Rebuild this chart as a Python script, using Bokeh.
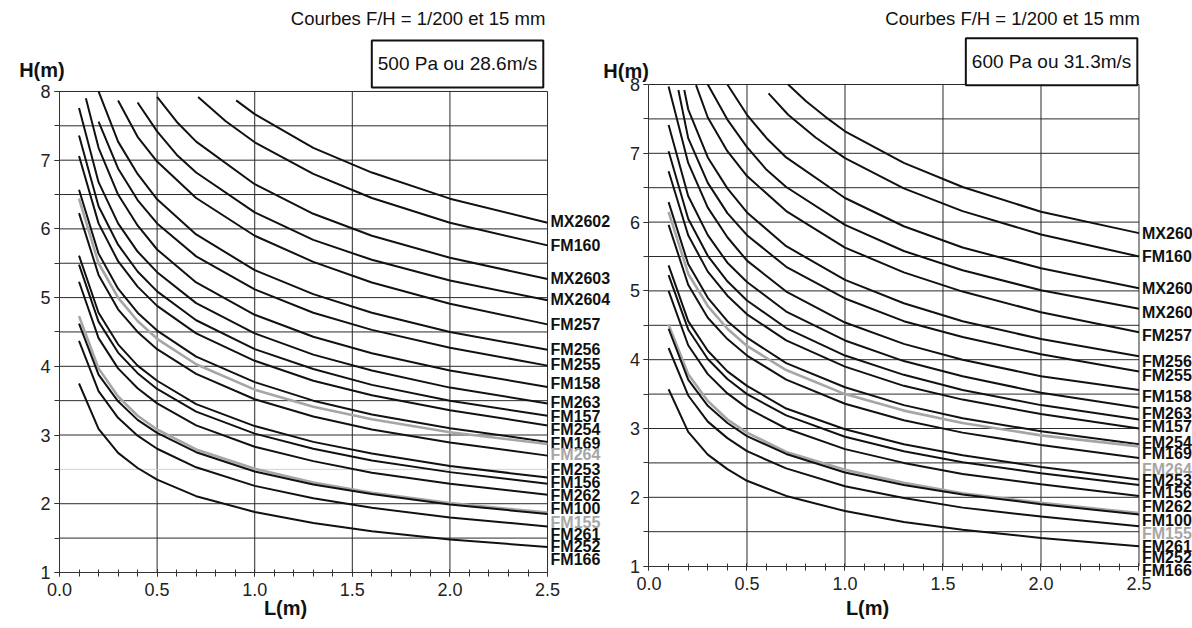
from bokeh.plotting import figure
from bokeh.models import (Range1d, SingleIntervalTicker, PrintfTickFormatter, LinearAxis,
                          Label, LabelSet, ColumnDataSource)
from bokeh.core.properties import value
from bokeh.embed import file_html
from bokeh.resources import INLINE

# ---------------- data ----------------
NAMES = ["MX2602", "FM160", "MX2603", "MX2604", "FM257", "FM256", "FM255", "FM158",
         "FM263", "FM157", "FM254", "FM169", "FM264", "FM253", "FM156", "FM262",
         "FM100", "FM155", "FM261", "FM252", "FM166"]
GRAY_NAMES = ["FM264", "FM155"]
LABELS_500 = NAMES
LABELS_600 = ["MX260", "FM160", "MX260", "MX260", "FM257", "FM256", "FM255", "FM158",
              "FM263", "FM157", "FM254", "FM169", "FM264", "FM253", "FM156", "FM262",
              "FM100", "FM155", "FM261", "FM252", "FM166"]

L_GRID = [0.1, 0.2, 0.3, 0.4, 0.5, 0.7, 1.0, 1.3, 1.6, 2.0, 2.5]

# --- 500 Pa ---
L500_MX2602 = [0.905, 1.0, 1.3, 1.6, 2.0, 2.5]
H500_MX2602 = [7.87, 7.67, 7.18, 6.82, 6.44, 6.09]
L500_FM160 = [0.71, 0.85, 1.0, 1.3, 1.6, 2.0, 2.5]
H500_FM160 = [7.92, 7.57, 7.26, 6.80, 6.45, 6.09, 5.76]
L500_MX2603 = [0.5, 0.6, 0.7, 1.0, 1.3, 1.6, 2.0, 2.5]
H500_MX2603 = [7.92, 7.56, 7.27, 6.65, 6.22, 5.90, 5.58, 5.27]
L500_MX2604 = [0.4, 0.5, 0.6, 0.7, 1.0, 1.3, 1.6, 2.0, 2.5]
H500_MX2604 = [7.84, 7.42, 7.08, 6.82, 6.24, 5.84, 5.55, 5.25, 4.96]
L500_FM257 = [0.3, 0.4, 0.5, 0.7, 1.0, 1.3, 1.6, 2.0, 2.5]
H500_FM257 = [7.87, 7.34, 6.98, 6.45, 5.90, 5.52, 5.22, 4.91, 4.61]
L500_FM256 = [0.2, 0.3, 0.4, 0.5, 0.7, 1.0, 1.3, 1.6, 2.0, 2.5]
H500_FM256 = [8.0, 7.27, 6.80, 6.43, 5.92, 5.40, 5.05, 4.78, 4.50, 4.24]
L500_FM255 = [0.2, 0.3, 0.4, 0.5, 0.7, 1.0, 1.3, 1.6, 2.0, 2.5]
H500_FM255 = [7.56, 6.88, 6.42, 6.08, 5.60, 5.12, 4.78, 4.53, 4.27, 4.01]
L500_FM158 = [0.135, 0.2, 0.3, 0.4, 0.5, 0.7, 1.0, 1.3, 1.6, 2.0, 2.5]
H500_FM158 = [7.90, 7.18, 6.50, 6.05, 5.70, 5.22, 4.75, 4.43, 4.19, 3.94, 3.70]
H500_FM263 = [7.76, 6.68, 6.08, 5.67, 5.37, 4.92, 4.48, 4.17, 3.94, 3.69, 3.46]
H500_FM157 = [7.36, 6.33, 5.77, 5.38, 5.09, 4.67, 4.25, 3.96, 3.73, 3.50, 3.28]
H500_FM254 = [7.06, 6.08, 5.53, 5.16, 4.88, 4.48, 4.08, 3.79, 3.58, 3.36, 3.14]
H500_FM169 = [6.57, 5.64, 5.13, 4.78, 4.52, 4.14, 3.77, 3.50, 3.30, 3.10, 2.90]
H500_FM264 = [6.44, 5.50, 5.00, 4.66, 4.40, 4.03, 3.66, 3.41, 3.23, 3.04, 2.87]
H500_FM253 = [6.23, 5.33, 4.83, 4.50, 4.25, 3.89, 3.52, 3.27, 3.08, 2.89, 2.70]
H500_FM156 = [5.61, 4.78, 4.32, 4.01, 3.79, 3.45, 3.13, 2.90, 2.73, 2.55, 2.38]
H500_FM262 = [5.48, 4.65, 4.20, 3.90, 3.67, 3.34, 3.02, 2.80, 2.63, 2.46, 2.29]
H500_FM100 = [5.23, 4.41, 3.97, 3.68, 3.46, 3.14, 2.83, 2.62, 2.45, 2.29, 2.13]
H500_FM155 = [4.73, 3.97, 3.56, 3.28, 3.08, 2.79, 2.51, 2.31, 2.16, 2.01, 1.87]
H500_FM261 = [4.62, 3.88, 3.49, 3.22, 3.03, 2.75, 2.47, 2.28, 2.14, 1.99, 1.85]
H500_FM252 = [4.37, 3.64, 3.25, 2.99, 2.80, 2.53, 2.26, 2.08, 1.94, 1.80, 1.67]
H500_FM166 = [3.75, 3.09, 2.74, 2.52, 2.35, 2.11, 1.88, 1.72, 1.60, 1.48, 1.37]

# --- 600 Pa ---
L600_MX2602 = [0.71, 0.8, 0.9, 1.0, 1.3, 1.6, 2.0, 2.5]
H600_MX2602 = [8.0, 7.76, 7.53, 7.32, 6.86, 6.51, 6.15, 5.84]
L600_FM160 = [0.61, 0.71, 0.85, 1.0, 1.3, 1.6, 2.0, 2.5]
H600_FM160 = [7.87, 7.56, 7.23, 6.93, 6.49, 6.16, 5.82, 5.50]
L600_MX2603 = [0.4, 0.5, 0.6, 0.7, 1.0, 1.3, 1.6, 2.0, 2.5]
H600_MX2603 = [8.0, 7.56, 7.22, 6.94, 6.35, 5.94, 5.63, 5.33, 5.04]
L600_MX2604 = [0.3, 0.4, 0.5, 0.6, 0.7, 1.0, 1.3, 1.6, 2.0, 2.5]
H600_MX2604 = [8.0, 7.49, 7.09, 6.76, 6.51, 5.96, 5.58, 5.30, 5.01, 4.74]
L600_FM257 = [0.24, 0.3, 0.4, 0.5, 0.7, 1.0, 1.3, 1.6, 2.0, 2.5]
H600_FM257 = [7.99, 7.52, 7.03, 6.67, 6.16, 5.63, 5.27, 4.99, 4.69, 4.40]
L600_FM256 = [0.18, 0.2, 0.3, 0.4, 0.5, 0.7, 1.0, 1.3, 1.6, 2.0, 2.5]
H600_FM256 = [7.92, 7.64, 6.94, 6.49, 6.14, 5.65, 5.16, 4.82, 4.56, 4.30, 4.05]
L600_FM255 = [0.15, 0.2, 0.3, 0.4, 0.5, 0.7, 1.0, 1.3, 1.6, 2.0, 2.5]
H600_FM255 = [7.92, 7.22, 6.57, 6.13, 5.81, 5.35, 4.89, 4.56, 4.33, 4.08, 3.83]
H600_FM158 = [7.97, 6.86, 6.21, 5.78, 5.44, 4.99, 4.54, 4.23, 4.00, 3.76, 3.56]
H600_FM263 = [7.41, 6.38, 5.81, 5.41, 5.13, 4.70, 4.28, 3.98, 3.76, 3.52, 3.30]
H600_FM157 = [7.03, 6.05, 5.51, 5.14, 4.86, 4.46, 4.06, 3.78, 3.56, 3.34, 3.13]
H600_FM254 = [6.74, 5.81, 5.28, 4.93, 4.66, 4.28, 3.90, 3.62, 3.42, 3.21, 3.00]
H600_FM169 = [6.29, 5.39, 4.90, 4.56, 4.32, 3.95, 3.60, 3.34, 3.15, 2.96, 2.77]
H600_FM264 = [6.15, 5.25, 4.78, 4.45, 4.20, 3.85, 3.50, 3.26, 3.08, 2.90, 2.74]
H600_FM253 = [5.96, 5.09, 4.61, 4.30, 4.06, 3.71, 3.36, 3.12, 2.94, 2.76, 2.57]
H600_FM156 = [5.37, 4.56, 4.13, 3.83, 3.62, 3.29, 2.99, 2.77, 2.61, 2.44, 2.26]
H600_FM262 = [5.23, 4.44, 4.01, 3.72, 3.50, 3.19, 2.88, 2.67, 2.51, 2.35, 2.18]
H600_FM100 = [5.00, 4.21, 3.79, 3.51, 3.30, 3.00, 2.70, 2.50, 2.34, 2.19, 2.02]
H600_FM155 = [4.51, 3.79, 3.40, 3.13, 2.94, 2.66, 2.40, 2.21, 2.06, 1.92, 1.77]
H600_FM261 = [4.45, 3.71, 3.33, 3.08, 2.89, 2.63, 2.36, 2.18, 2.04, 1.90, 1.75]
H600_FM252 = [4.17, 3.48, 3.10, 2.86, 2.67, 2.42, 2.16, 1.99, 1.85, 1.72, 1.58]
H600_FM166 = [3.57, 2.95, 2.62, 2.41, 2.24, 2.02, 1.80, 1.64, 1.53, 1.41, 1.29]

# grid / tick positions
X_GRID = [0.5, 1.0, 1.5, 2.0, 2.5]
Y_GRID = [1.5, 2.0, 2.5, 3.0, 3.5, 4.0, 4.5, 5.0, 5.5, 6.0, 6.5, 7.0, 7.5, 8.0]

# label stacking positions (layout)
LABEL_Y_500 = [6.11, 5.76, 5.28, 4.97, 4.61, 4.24, 4.03, 3.75, 3.47, 3.27, 3.08, 2.88,
               2.71, 2.50, 2.31, 2.12, 1.93, 1.73, 1.55, 1.38, 1.19]
LABEL_Y_600 = [5.84, 5.50, 5.03, 4.69, 4.35, 3.97, 3.77, 3.47, 3.22, 3.03, 2.80, 2.63,
               2.40, 2.24, 2.07, 1.87, 1.67, 1.48, 1.28, 1.13, 0.94]

SERIES_500 = [
    ("MX2602", L500_MX2602, H500_MX2602), ("FM160", L500_FM160, H500_FM160),
    ("MX2603", L500_MX2603, H500_MX2603), ("MX2604", L500_MX2604, H500_MX2604),
    ("FM257", L500_FM257, H500_FM257), ("FM256", L500_FM256, H500_FM256),
    ("FM255", L500_FM255, H500_FM255), ("FM158", L500_FM158, H500_FM158),
    ("FM263", L_GRID, H500_FM263), ("FM157", L_GRID, H500_FM157),
    ("FM254", L_GRID, H500_FM254), ("FM169", L_GRID, H500_FM169),
    ("FM264", L_GRID, H500_FM264), ("FM253", L_GRID, H500_FM253),
    ("FM156", L_GRID, H500_FM156), ("FM262", L_GRID, H500_FM262),
    ("FM100", L_GRID, H500_FM100), ("FM155", L_GRID, H500_FM155),
    ("FM261", L_GRID, H500_FM261), ("FM252", L_GRID, H500_FM252),
    ("FM166", L_GRID, H500_FM166),
]
SERIES_600 = [
    ("MX2602", L600_MX2602, H600_MX2602), ("FM160", L600_FM160, H600_FM160),
    ("MX2603", L600_MX2603, H600_MX2603), ("MX2604", L600_MX2604, H600_MX2604),
    ("FM257", L600_FM257, H600_FM257), ("FM256", L600_FM256, H600_FM256),
    ("FM255", L600_FM255, H600_FM255), ("FM158", L_GRID, H600_FM158),
    ("FM263", L_GRID, H600_FM263), ("FM157", L_GRID, H600_FM157),
    ("FM254", L_GRID, H600_FM254), ("FM169", L_GRID, H600_FM169),
    ("FM264", L_GRID, H600_FM264), ("FM253", L_GRID, H600_FM253),
    ("FM156", L_GRID, H600_FM156), ("FM262", L_GRID, H600_FM262),
    ("FM100", L_GRID, H600_FM100), ("FM155", L_GRID, H600_FM155),
    ("FM261", L_GRID, H600_FM261), ("FM252", L_GRID, H600_FM252),
    ("FM166", L_GRID, H600_FM166),
]

TITLE = "Courbes F/H = 1/200 et 15 mm"
BOX_500 = "500 Pa ou 28.6m/s"
BOX_600 = "600 Pa ou 31.3m/s"

FONT = "Liberation Sans"
BLACK = "#111111"
GRAY = "#a6a6a6"
GRID = "#2a2a2a"

# one canvas, two panels: each panel has its own pair of ranges spanning the canvas
p = figure(width=1192, height=628,
           x_range=Range1d(-0.3023, 5.804), y_range=Range1d(0.184, 9.324),
           output_backend="svg", toolbar_location=None,
           x_axis_type=None, y_axis_type=None,
           min_border_left=0, min_border_right=0, min_border_top=0, min_border_bottom=0)
p.extra_x_ranges = {"x2": Range1d(-3.3087, 2.773)}
p.extra_y_ranges = {"y2": Range1d(0.093, 9.221)}
p.outline_line_color = None
p.xgrid.visible = False
p.ygrid.visible = False
p.background_fill_color = "white"
p.border_fill_color = "white"


def panel(series, labels, label_y, box_text, xn, yn, light_25,
          hm_xy, lm_xy, title_xy, box_xy):
    rn = dict(x_range_name=xn, y_range_name=yn)
    yg = [t for t in Y_GRID if not (light_25 and t == 2.5)]
    p.segment(x0=X_GRID, y0=[1.0] * len(X_GRID), x1=X_GRID, y1=[8.0] * len(X_GRID),
              line_color=GRID, line_width=1, **rn)
    p.segment(x0=[0.0] * len(yg), y0=yg, x1=[2.5] * len(yg), y1=yg,
              line_color=GRID, line_width=1, **rn)
    if light_25:
        p.segment(x0=[0.0], y0=[2.5], x1=[2.5], y1=[2.5], line_color="#d2d2d2",
                  line_width=1, **rn)

    xa = LinearAxis(fixed_location=1.0, bounds=(0, 2.5), **rn)
    xa.ticker = SingleIntervalTicker(interval=0.5, num_minor_ticks=5)
    xa.formatter = PrintfTickFormatter(format="%.1f")
    ya = LinearAxis(fixed_location=0.0, bounds=(1, 8), **rn)
    ya.ticker = SingleIntervalTicker(interval=1, num_minor_ticks=2)
    for ax in (xa, ya):
        ax.axis_line_color = "#333333"
        ax.major_tick_line_color = "#333333"
        ax.minor_tick_line_color = "#333333"
        ax.major_label_text_font = FONT
        ax.major_label_text_font_size = "18px"
        ax.major_label_text_color = "#222222"
    xa.major_tick_in = 3
    xa.major_tick_out = 4
    xa.minor_tick_in = 3
    xa.minor_tick_out = 4
    xa.major_label_standoff = 7
    ya.major_tick_in = 0
    ya.major_tick_out = 5
    ya.minor_tick_in = 0
    ya.minor_tick_out = 5
    ya.major_label_standoff = 4
    p.add_layout(xa, "below")
    p.add_layout(ya, "left")

    for name, xs, ys in series:
        if name in GRAY_NAMES:
            p.line(xs, ys, line_color=GRAY, line_width=2.6, **rn)
        else:
            p.line(xs, ys, line_color=BLACK, line_width=2, **rn)

    colors = [GRAY if n in GRAY_NAMES else BLACK for n in NAMES]
    src = ColumnDataSource(dict(x=[2.5] * len(labels), y=label_y, text=labels, c=colors))
    p.add_layout(LabelSet(x="x", y="y", text="text", source=src, text_color="c",
                          x_offset=3, text_baseline="middle", text_align="left",
                          text_font=value(FONT), text_font_style="bold",
                          text_font_size="16px", **rn))

    p.add_layout(Label(x=hm_xy[0], y=hm_xy[1], text="H(m)", text_font=FONT,
                       text_font_size="20px", text_font_style="bold",
                       text_align="center", text_baseline="middle",
                       text_color="#111111", **rn))
    p.add_layout(Label(x=lm_xy[0], y=lm_xy[1], text="L(m)", text_font=FONT,
                       text_font_size="20px", text_font_style="bold",
                       text_align="center", text_baseline="middle",
                       text_color="#111111", **rn))
    p.add_layout(Label(x=title_xy[0], y=title_xy[1], text=TITLE, text_font=FONT,
                       text_font_size="18.5px", text_align="center",
                       text_baseline="middle", text_color="#111111", **rn))
    p.add_layout(Label(x=box_xy[0], y=box_xy[1], text=box_text, text_font=FONT,
                       text_font_size="19px", text_align="center",
                       text_baseline="middle", text_color="#111111",
                       border_line_color="#111111", border_line_width=2,
                       background_fill_color="white", padding=(6, 13), **rn))


panel(SERIES_500, LABELS_500, LABEL_Y_500, BOX_500, "default", "default", True,
      hm_xy=(-0.09, 8.31), lm_xy=(1.158, 0.476), title_xy=(1.837, 9.06),
      box_xy=(2.039, 8.40))
panel(SERIES_600, LABELS_600, LABEL_Y_600, BOX_600, "x2", "y2", False,
      hm_xy=(-0.117, 8.20), lm_xy=(1.115, 0.385), title_xy=(1.855, 8.96),
      box_xy=(2.054, 8.33))

open("out.html", "w").write(file_html(p, INLINE))
